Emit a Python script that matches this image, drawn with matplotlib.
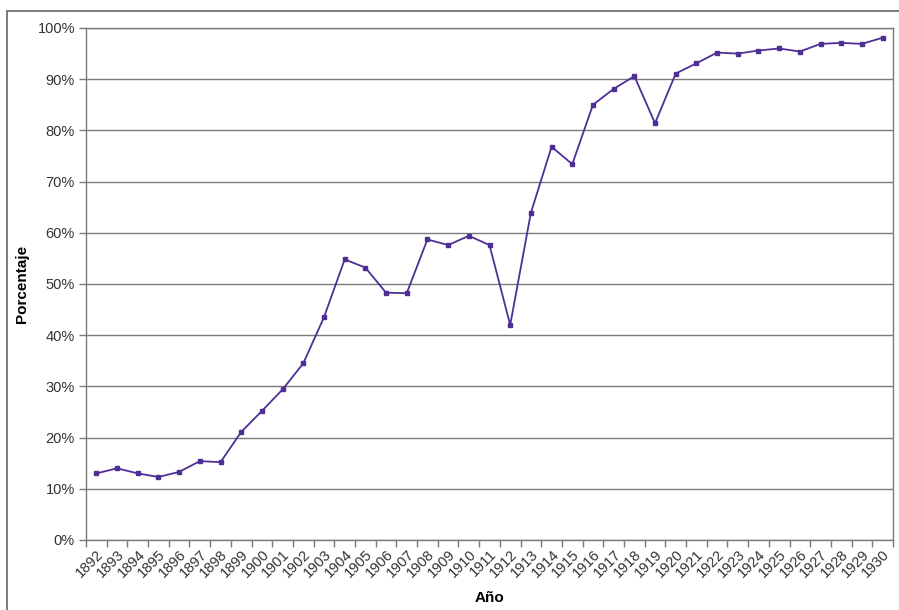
import matplotlib
matplotlib.use("Agg")
import matplotlib.pyplot as plt
from matplotlib.patches import Rectangle
import numpy as np

# -----------------------------
# DATA
# -----------------------------
years = list(range(1892, 1931))
porcentaje = [13.0, 14.0, 13.0, 12.3, 13.3, 15.4, 15.2, 21.1, 25.2, 29.4,
              34.5, 43.5, 54.8, 53.2, 48.3, 48.2, 58.7, 57.6, 59.4, 57.6,
              42.0, 63.9, 76.8, 73.4, 85.0, 88.1, 90.6, 81.4, 91.1, 93.1,
              95.2, 95.0, 95.6, 96.0, 95.4, 96.9, 97.1, 96.9, 98.1]
y_ticks = [0, 10, 20, 30, 40, 50, 60, 70, 80, 90, 100]

LINE_COLOR = "#4f2f96"
GRID_COLOR = "#7a7a7a"

plt.rcParams["font.family"] = ["Liberation Sans", "DejaVu Sans"]

fig = plt.figure(figsize=(8.99, 6.10), dpi=100)
ax = fig.add_axes([0.0957, 0.1148, 0.8976, 0.8393])

x = np.arange(len(years))
ax.plot(x, porcentaje, color=LINE_COLOR, linewidth=1.3, marker="s",
        markersize=3.5, markerfacecolor=LINE_COLOR, markeredgecolor=LINE_COLOR)

# -----------------------------
# AXES
# -----------------------------
ax.set_xlim(-0.5, len(years) - 0.5)
ax.set_ylim(0, 100)
ax.set_yticks(y_ticks)
ax.set_yticklabels([f"{v}%" for v in y_ticks], fontsize=10.5, color="#333333")
ax.yaxis.grid(True, color=GRID_COLOR, linewidth=1.0)
ax.set_axisbelow(True)

ax.set_xticks(x)
ax.set_xticklabels([str(y) for y in years], rotation=45, ha="right",
                   rotation_mode="anchor", fontsize=10.5, color="#333333")
ax.tick_params(axis="x", length=0, pad=5)
ax.set_xticks(np.arange(-0.5, len(years)), minor=True)
ax.tick_params(axis="x", which="minor", length=5, color=GRID_COLOR, width=1)
ax.tick_params(axis="y", length=5, color=GRID_COLOR, width=1, pad=3)

for s in ["left", "bottom", "right", "top"]:
    ax.spines[s].set_color(GRID_COLOR)
    ax.spines[s].set_linewidth(1.0)

ax.set_ylabel("Porcentaje", fontsize=11, fontweight="bold", labelpad=6)
ax.set_xlabel("Año", fontsize=11, fontweight="bold", labelpad=8)

# outer chart frame
fig.patches.append(Rectangle((7 / 899, -0.01), 1.0, 1 - 11 / 610 + 0.01,
                             transform=fig.transFigure, fill=False,
                             edgecolor="#666666", linewidth=1.2))

fig.savefig("out.png", dpi=100)
